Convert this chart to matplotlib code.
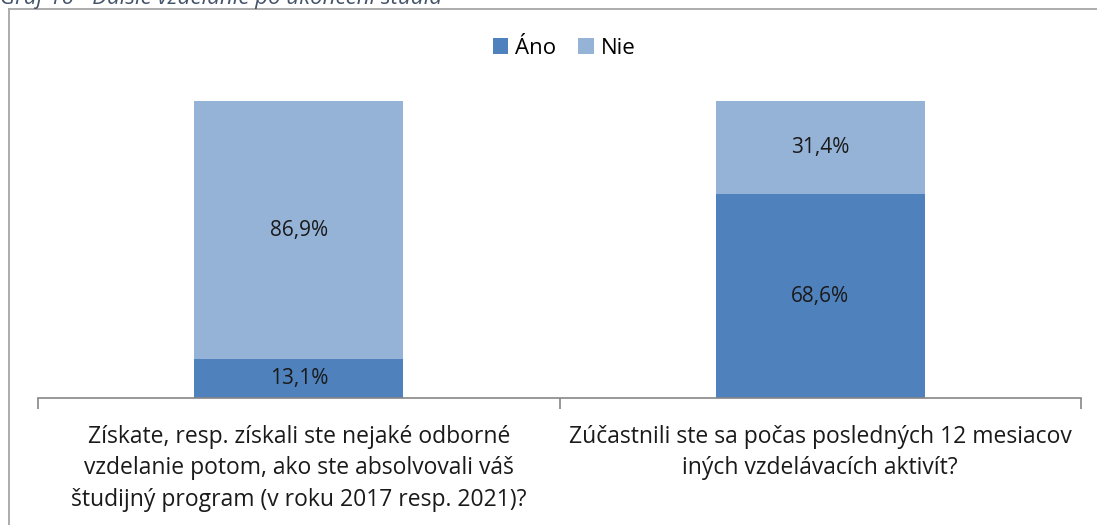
import matplotlib.pyplot as plt
from matplotlib.lines import Line2D

# Dados do gráfico
categories = [
    "Získate, resp. získali ste nejaké odborné\nvzdelanie potom, ako ste absolvovali váš\nštudijný program (v roku 2017 resp. 2021)?",
    "Zúčastnili ste sa počas posledných 12 mesiacov\niných vzdelávacích aktivít?",
]
ano_values = [13.1, 68.6]
nie_values = [86.9, 31.4]
series_names = ["Áno", "Nie"]
caption = "Graf 16 - Ďalšie vzdelanie po ukončení štúdia"

plt.rcParams['font.family'] = ['Open Sans', 'DejaVu Sans']

W, H = 1097, 525
fig = plt.figure(figsize=(W / 100, H / 100), dpi=100)

# Moldura do gráfico (cortada à direita e embaixo)
frame_color = '#A6A6A6'
fig.add_artist(Line2D([9 / W, 9 / W], [1 - 9 / H, 0], transform=fig.transFigure,
                      color=frame_color, lw=1.3))
fig.add_artist(Line2D([9 / W, 1], [1 - 9 / H, 1 - 9 / H], transform=fig.transFigure,
                      color=frame_color, lw=1.3))

# Legenda do documento (parcialmente cortada no topo)
fig.text(0.0, 1 - 4 / H, caption, fontsize=16, style='italic', color='#44546A',
         va='baseline', ha='left')

ax = fig.add_axes([38 / W, 127 / H, (1081 - 38) / W, (398 - 101) / H])

x = range(len(categories))
bars_ano = ax.bar(x, ano_values, width=0.4, color='#4F81BD', label=series_names[0])
bars_nie = ax.bar(x, nie_values, width=0.4, bottom=ano_values, color='#95B3D7',
                  label=series_names[1])

for bars, vals, bottoms in [(bars_ano, ano_values, [0, 0]), (bars_nie, nie_values, ano_values)]:
    for b, v, b0 in zip(bars, vals, bottoms):
        ax.text(b.get_x() + b.get_width() / 2, b0 + v / 2, f"{v:.1f}%".replace('.', ','),
                ha='center', va='center', fontsize=15, color='#1a1a1a')

ax.set_xlim(-0.5, 1.5)
ax.set_ylim(0, 100)
ax.set_yticks([])
for side in ['top', 'right', 'left']:
    ax.spines[side].set_visible(False)
ax.spines['bottom'].set_color('#868686')
ax.spines['bottom'].set_linewidth(1.2)

# Marcas nos limites das categorias
ax.set_xticks([-0.5, 0.5, 1.5])
ax.set_xticklabels([])
ax.tick_params(axis='x', length=8, color='#868686', width=1.2)
for i, cat in enumerate(categories):
    ax.text(i, -9.0, cat, ha='center', va='top', fontsize=16.5, color='#1a1a1a',
            linespacing=1.42)

fig.legend(handles=[bars_ano, bars_nie], labels=series_names, loc='center',
           bbox_to_anchor=(564 / W, 1 - 48 / H), ncol=2, frameon=False, fontsize=16,
           handlelength=0.7, handleheight=0.7, handletextpad=0.3, columnspacing=1.0)

fig.savefig('out.png', dpi=100)
